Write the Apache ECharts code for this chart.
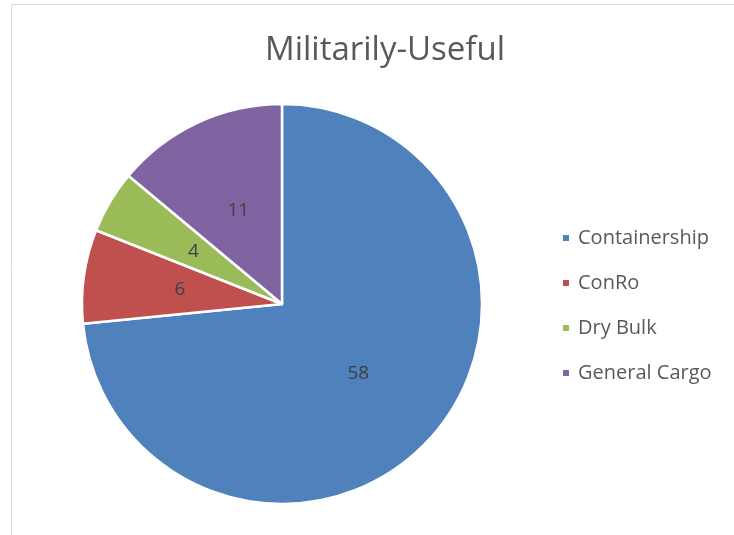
<!DOCTYPE html>
<html><head><meta charset="utf-8">
<script src="https://cdn.jsdelivr.net/npm/echarts@6/dist/echarts.min.js"></script>
<style>html,body{margin:0;padding:0;background:#fff}#c{width:734px;height:535px}</style>
</head><body><div id="c"></div>
<script>
const categories = ["Containership", "ConRo", "Dry Bulk", "General Cargo"];
const values = [58, 6, 4, 11];
const colors = ["#4F81BD", "#C0504D", "#9BBB59", "#8064A2"];
const titleText = "Militarily-Useful";

const chart = echarts.init(document.getElementById('c'), null, {renderer: 'canvas'});
const FONT = "'Open Sans', 'Liberation Sans', sans-serif";
chart.setOption({
  animation: false,
  backgroundColor: '#fff',
  graphic: [{
    type: 'rect', shape: {x: 11.5, y: 4.5, width: 800, height: 600},
    style: {fill: 'none', stroke: '#d9d9d9', lineWidth: 1}, silent: true
  }],
  title: {
    text: titleText, left: 380, top: 29, textAlign: 'center',
    textStyle: {fontFamily: FONT, fontSize: 33, fontWeight: 'normal', color: '#595959'}
  },
  legend: {
    orient: 'vertical', left: 561, top: 228, itemGap: 25, padding: 0,
    icon: 'rect', itemWidth: 8, itemHeight: 8,
    data: categories,
    textStyle: {fontFamily: FONT, fontSize: 20, color: '#595959', padding: [0,0,0,3]}
  },
  series: [{
    type: 'pie', center: [282, 304], radius: [0, 200],
    startAngle: 90, clockwise: true,
    data: categories.map((n, i) => ({name: n, value: values[i], itemStyle: {color: colors[i]}})),
    itemStyle: {borderColor: '#fff', borderWidth: 2.5},
    label: {show: true, position: 'inside', formatter: '{c}', fontFamily: FONT, fontSize: 19, color: '#404040', padding: [6,0,0,0]},
    labelLine: {show: false},
    emphasis: {disabled: true}
  }]
});
</script></body></html>
